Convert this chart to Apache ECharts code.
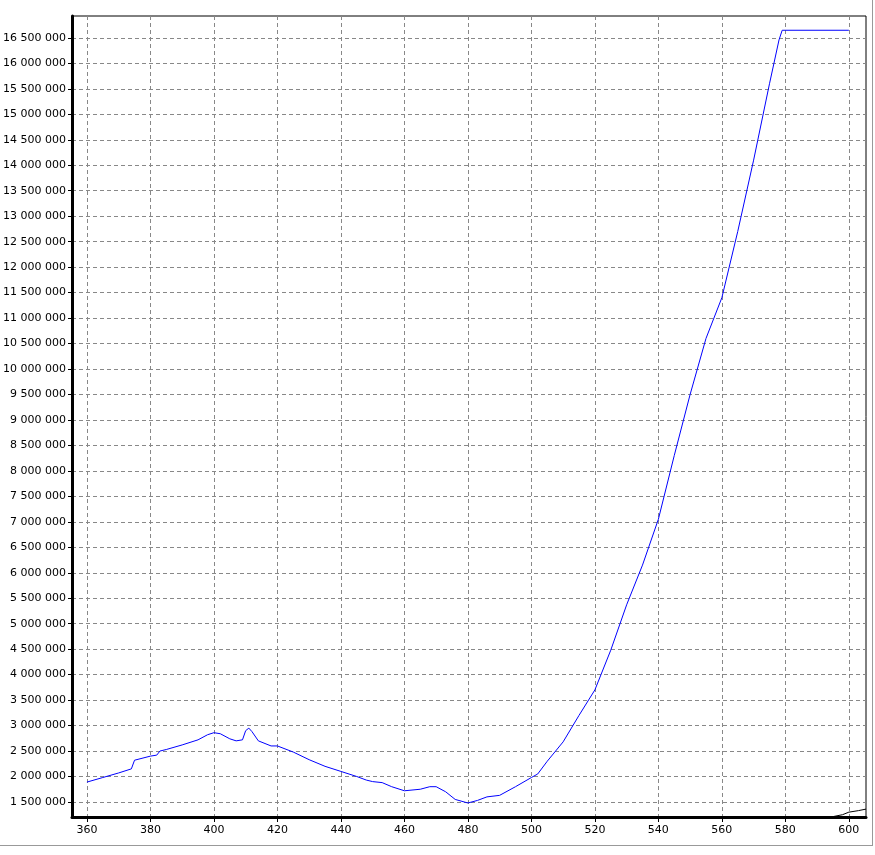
<!DOCTYPE html>
<html>
<head>
<meta charset="utf-8">
<script src="https://cdn.jsdelivr.net/npm/echarts@6/dist/echarts.min.js"></script>
<style>
  html, body { margin: 0; padding: 0; background: #fff; }
  #chart { width: 875px; height: 855px; }
  #edgeB { position: absolute; left: 0; top: 845px; width: 872px; height: 1px; background: #999; }
  #edgeR { position: absolute; left: 872px; top: 0; width: 1px; height: 846px; background: #999; }
</style>
</head>
<body>
<div id="chart"></div>
<div id="edgeB"></div>
<div id="edgeR"></div>
<script>
// wavelength (x) and intensity (y)
const waveBlue = [360, 365, 370, 374, 375, 380, 382, 383, 385, 390, 395, 398, 400, 402, 405, 407, 409, 410, 411, 412, 414, 418, 420, 425, 430, 435, 440, 445, 448, 450, 453, 456, 460, 465, 468, 470, 473, 476, 480, 483, 486, 490, 495, 500, 502, 505, 510, 515, 520, 525, 530, 535, 540, 545, 550, 555, 560, 565, 570, 575, 578, 579, 580, 600];
const valuesBlue = [1890000, 1980000, 2070000, 2150000, 2320000, 2400000, 2420000, 2500000, 2530000, 2620000, 2720000, 2820000, 2860000, 2840000, 2740000, 2700000, 2720000, 2900000, 2950000, 2880000, 2700000, 2600000, 2600000, 2480000, 2330000, 2200000, 2100000, 2000000, 1930000, 1900000, 1880000, 1800000, 1720000, 1750000, 1800000, 1800000, 1700000, 1550000, 1480000, 1530000, 1600000, 1630000, 1800000, 1980000, 2050000, 2300000, 2680000, 3200000, 3700000, 4480000, 5370000, 6150000, 7050000, 8300000, 9500000, 10600000, 11400000, 12700000, 14100000, 15600000, 16460000, 16650000, 16650000, 16650000];
const waveBlack = [594, 598, 600, 603, 605.4];
const valuesBlack = [1200000, 1250000, 1300000, 1330000, 1360000];
const xTicks = [360, 380, 400, 420, 440, 460, 480, 500, 520, 540, 560, 580, 600];
const yTicks = [];
for (let v = 1500000; v <= 16500000; v += 500000) yTicks.push(v);

const fmt = v => String(Math.round(v)).replace(/\B(?=(\d{3})+(?!\d))/g, ' ');
const zip = (a, b) => a.map((x, i) => [x, b[i]]);

const chart = echarts.init(document.getElementById('chart'));
chart.setOption({
  animation: false,
  grid: { left: 72, right: 9, top: 16, bottom: 38, show: true, borderColor: '#000', borderWidth: 1 },
  xAxis: {
    type: 'value', min: 355.3, max: 605.4,
    axisLine: { lineStyle: { color: '#000', width: 3 } },
    axisTick: { customValues: xTicks, length: 5, lineStyle: { color: '#000' } },
    axisLabel: { customValues: xTicks, color: '#000', fontSize: 11, fontFamily: 'DejaVu Sans', margin: 8 },
    splitLine: { show: true, lineStyle: { color: '#888', type: [4, 3] } }
  },
  yAxis: {
    type: 'value', min: 1205000, max: 16930000,
    axisLine: { show: true, lineStyle: { color: '#000', width: 3 } },
    axisTick: { show: true, customValues: yTicks, length: 4, lineStyle: { color: '#000' } },
    axisLabel: { customValues: yTicks, color: '#000', fontSize: 11, fontFamily: 'DejaVu Sans', formatter: fmt, margin: 6 },
    splitLine: { show: true, lineStyle: { color: '#888', type: [4, 3] } }
  },
  series: [
    { type: 'line', data: zip(waveBlue, valuesBlue), showSymbol: false, lineStyle: { color: '#0000ff', width: 1 } },
    { type: 'line', data: zip(waveBlack, valuesBlack), showSymbol: false, lineStyle: { color: '#000', width: 1 } }
  ]
});
</script>
</body>
</html>
